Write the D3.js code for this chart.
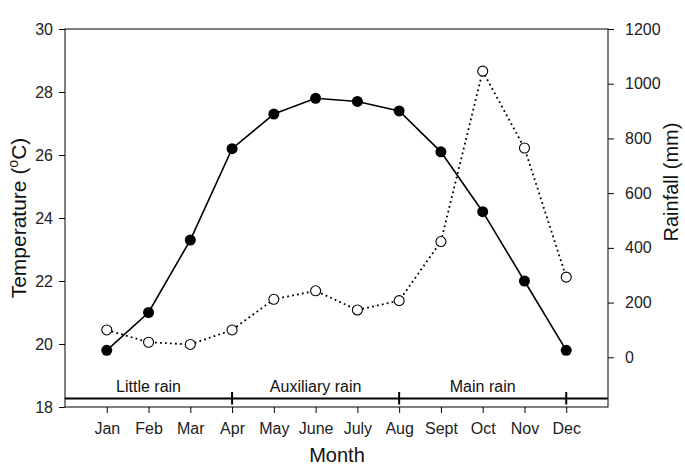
<!DOCTYPE html>
<html>
<head>
<meta charset="utf-8">
<script src="https://cdn.jsdelivr.net/npm/d3@7"></script>
<style>
  body { margin: 0; background: #fff; }
  svg { font-family: "Liberation Sans", Arial, sans-serif; }
</style>
</head>
<body>
<script>
// monthly values
const months = ["Jan", "Feb", "Mar", "Apr", "May", "June", "July", "Aug", "Sept", "Oct", "Nov", "Dec"];
const temperature = [19.8, 21.0, 23.3, 26.2, 27.3, 27.8, 27.7, 27.4, 26.1, 24.2, 22.0, 19.8];
const rainfall = [100, 55, 47, 100, 212, 243, 173, 207, 423, 1046, 765, 293];
const tempTicks = [18, 20, 22, 24, 26, 28, 30];
const rainTicks = [0, 200, 400, 600, 800, 1000, 1200];
const seasons = [
  {name: "Little rain", from: 0, to: 4},
  {name: "Auxiliary rain", from: 4, to: 8},
  {name: "Main rain", from: 8, to: 12}
];
const seasonBreaks = [4, 8, 12];

const width = 685, height = 470;
const plotL = 65, plotR = 608, plotT = 29, plotB = 407;

const svg = d3.select("body").append("svg")
    .attr("width", width)
    .attr("height", height);

const x = d3.scaleLinear().domain([0, 13]).range([plotL, plotR]);
const yT = d3.scaleLinear().domain([18, 30]).range([plotB, plotT]);
const yR = d3.scaleLinear().domain([0, 1200]).range([357.3, plotT]);

// frame
svg.append("rect")
    .attr("x", plotL).attr("y", plotT)
    .attr("width", plotR - plotL).attr("height", plotB - plotT)
    .attr("fill", "none").attr("stroke", "#000").attr("stroke-width", 1);

// left axis
const gl = svg.append("g")
    .attr("transform", `translate(${plotL},0)`)
    .call(d3.axisLeft(yT).tickValues(tempTicks).tickSize(6).tickPadding(6));
gl.select(".domain").remove();
gl.selectAll("text").style("font-size", "16px").attr("fill", "#222");

// right axis
const gr = svg.append("g")
    .attr("transform", `translate(${plotR},0)`)
    .call(d3.axisRight(yR).tickValues(rainTicks).tickSize(6).tickPadding(11)
        .tickFormat(d3.format("d")));
gr.select(".domain").remove();
gr.selectAll("text").style("font-size", "16px").attr("fill", "#222");

// bottom axis
const gb = svg.append("g")
    .attr("transform", `translate(0,${plotB})`)
    .call(d3.axisBottom(x).tickValues(d3.range(1, 13)).tickSize(6).tickPadding(10)
        .tickFormat(d => months[d - 1]));
gb.select(".domain").remove();
gb.selectAll("text").style("font-size", "16px").attr("fill", "#222");

// season band
const seasonY = 398.5;
svg.append("line")
    .attr("x1", plotL).attr("x2", plotR)
    .attr("y1", seasonY).attr("y2", seasonY)
    .attr("stroke", "#000").attr("stroke-width", 2);
svg.selectAll(".sbreak").data(seasonBreaks).enter().append("line")
    .attr("x1", d => x(d)).attr("x2", d => x(d))
    .attr("y1", seasonY - 6.5).attr("y2", seasonY + 6)
    .attr("stroke", "#000").attr("stroke-width", 2);
svg.selectAll(".sname").data(seasons).enter().append("text")
    .attr("x", d => (x(d.from) + x(d.to)) / 2)
    .attr("y", 392)
    .attr("text-anchor", "middle")
    .style("font-size", "16px")
    .attr("fill", "#111")
    .text(d => d.name);

// rainfall, dotted
svg.append("path")
    .datum(rainfall)
    .attr("d", d3.line().x((d, i) => x(i + 1)).y(d => yR(d)))
    .attr("fill", "none").attr("stroke", "#000")
    .attr("stroke-width", 1.8).attr("stroke-dasharray", "1.8,3.2");

// temperature, solid
svg.append("path")
    .datum(temperature)
    .attr("d", d3.line().x((d, i) => x(i + 1)).y(d => yT(d)))
    .attr("fill", "none").attr("stroke", "#000").attr("stroke-width", 1.6);

svg.selectAll(".rain").data(rainfall).enter().append("circle")
    .attr("cx", (d, i) => x(i + 1)).attr("cy", d => yR(d))
    .attr("r", 5).attr("fill", "#fff").attr("stroke", "#000").attr("stroke-width", 1.1);

svg.selectAll(".temp").data(temperature).enter().append("circle")
    .attr("cx", (d, i) => x(i + 1)).attr("cy", d => yT(d))
    .attr("r", 5.5).attr("fill", "#000");

// titles
const lt = svg.append("text")
    .attr("transform", `translate(26,${(plotT + plotB) / 2}) rotate(-90)`)
    .attr("text-anchor", "middle")
    .style("font-size", "21px")
    .attr("fill", "#111");
lt.append("tspan").text("Temperature (");
lt.append("tspan").text("o").style("font-size", "14px").attr("dy", -8);
lt.append("tspan").text("C)").attr("dy", 8);

svg.append("text")
    .attr("transform", `translate(678,182) rotate(-90)`)
    .attr("text-anchor", "middle")
    .style("font-size", "20px")
    .attr("fill", "#111")
    .text("Rainfall (mm)");

svg.append("text")
    .attr("x", (plotL + plotR) / 2 + 0.5).attr("y", 462)
    .attr("text-anchor", "middle")
    .style("font-size", "20px")
    .attr("fill", "#111")
    .text("Month");
</script>
</body>
</html>
